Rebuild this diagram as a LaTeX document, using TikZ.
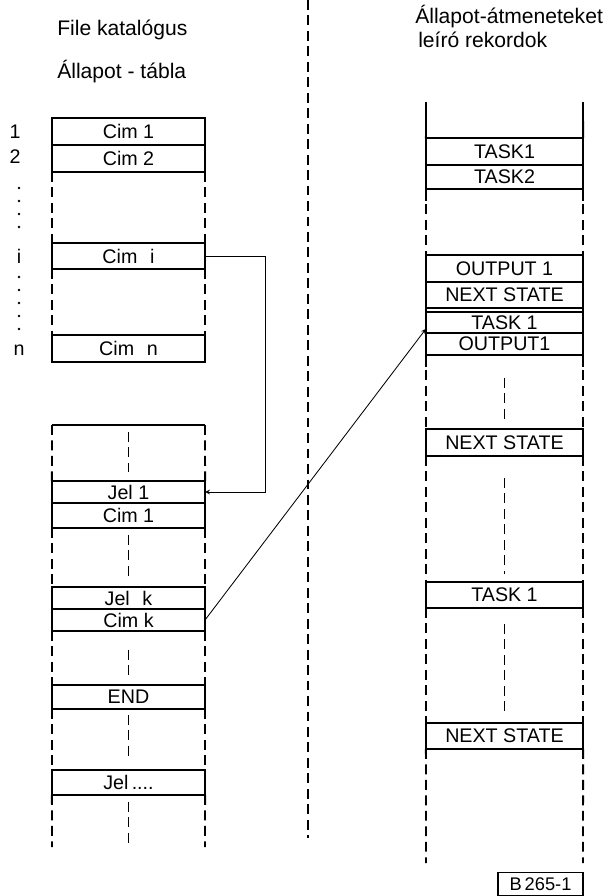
\documentclass[tikz,border=0pt]{standalone}
\usepackage{fontspec}
\setmainfont{Liberation Sans}
\usetikzlibrary{arrows,positioning,calc}

\begin{document}
\begin{tikzpicture}[
    x=0.025cm, y=-0.025cm,
    lbox/.style={rectangle, draw, line width=1.4pt, outer sep=0pt, minimum width=3.825cm, inner sep=0pt, font=\fontsize{14}{16}\selectfont},
    rbox/.style={lbox, minimum width=3.925cm},
    rail/.style={line width=1.4pt},
    railgap/.style={line width=1.4pt, dash pattern=on 7pt off 4pt},
    midline/.style={line width=0.9pt, dash pattern=on 7pt off 4pt},
    heading/.style={anchor=west, inner sep=0pt, font=\fontsize{15}{18}\selectfont},
    rownum/.style={inner sep=0pt, font=\fontsize{14}{16}\selectfont},
    link/.style={->, >=stealth, line width=0.6pt}
]
    \useasboundingbox (0,0) rectangle (610,896);

    % headings
    \node[heading] (head1) at (57,30) {File katalógus};
    \node[heading] (head2) at (57,72) {Állapot - tábla};
    \node[heading] (head3) at (415,17) {Állapot-átmeneteket};
    \node[heading] (head4) at (418,40) {leíró rekordok};

    % state table
    \node[lbox, minimum height=0.675cm] (cim1) at (128.5,131.5) {Cim 1};
    \node[lbox, minimum height=0.675cm, below=0pt of cim1] (cim2) {Cim 2};
    \node[lbox, minimum height=0.65cm] (cimi) at (128.5,256) {Cim\hspace{9pt}i};
    \node[lbox, minimum height=0.675cm] (cimn) at (128.5,348.5) {Cim\hspace{9pt}n};
    \draw[railgap] (cim2.south west) -- (cimi.north west) (cim2.south east) -- (cimi.north east);
    \draw[railgap] (cimi.south west) -- (cimn.north west) (cimi.south east) -- (cimn.north east);

    \node[rownum] (num1) at (15,132) {1};
    \node[rownum] (num2) at (15,157) {2};
    \node[rownum] (numi) at (19,256) {i};
    \node[rownum] (numn) at (19,350) {n};
    \foreach \y in {188,201,214,227,277,290,303,316,329}
        \fill (19,\y) circle (0.9pt);

    % file catalogue
    \coordinate (lnw) at (52,425);
    \coordinate (lne) at (205,425);
    \coordinate (lsw) at (52,847);
    \coordinate (lse) at (205,847);
    \node[lbox, minimum height=0.55cm] (jel1) at (128.5,492) {Jel 1};
    \node[lbox, minimum height=0.625cm, below=0pt of jel1] (cimA) {Cim 1};
    \node[lbox, minimum height=0.55cm] (jelk) at (128.5,598) {Jel\hspace{9pt}k};
    \node[lbox, minimum height=0.55cm, below=0pt of jelk] (cimk) {Cim k};
    \node[lbox, minimum height=0.6cm] (end) at (128.5,697) {END};
    \node[lbox, minimum height=0.625cm] (jeldots) at (128.5,782.5) {Jel\,....};
    \draw[rail] (lnw) -- (lne);
    \draw[railgap] (lnw) -- (jel1.north west) (lne) -- (jel1.north east);
    \foreach \a/\b in {cimA/jelk, cimk/end, end/jeldots}
        \draw[railgap] (\a.south west) -- (\b.north west) (\a.south east) -- (\b.north east);
    \draw[railgap] (jeldots.south west) -- (lsw) (jeldots.south east) -- (lse);
    \foreach \ya/\yb in {432/472, 535/580, 650/679, 715/760, 802/847}
        \draw[midline] (128.5,\ya) -- (128.5,\yb);

    % divider
    \draw[midline] (308,0) -- (308,838);

    % transition records
    \coordinate (rnw) at (426,102);
    \coordinate (rne) at (583,102);
    \coordinate (rsw) at (426,863);
    \coordinate (rse) at (583,863);
    \node[rbox, minimum height=0.675cm] (task1) at (504.5,151.5) {TASK1};
    \node[rbox, minimum height=0.6cm, below=0pt of task1] (task2) {TASK2};
    \node[rbox, minimum height=0.675cm] (out1) at (504.5,268.5) {OUTPUT 1};
    \node[rbox, minimum height=0.65cm, below=0pt of out1] (next1) {NEXT STATE};
    \node[rbox, minimum height=0.525cm, below=0.1cm of next1] (task1b) {TASK 1};
    \node[rbox, minimum height=0.55cm, below=0pt of task1b] (out1b) {OUTPUT1};
    \node[rbox, minimum height=0.675cm] (next2) at (504.5,442.5) {NEXT STATE};
    \node[rbox, minimum height=0.65cm] (task1c) at (504.5,595) {TASK 1};
    \node[rbox, minimum height=0.65cm] (next3) at (504.5,736) {NEXT STATE};
    \draw[rail] (rnw) -- (task1.north west) (rne) -- (task1.north east);
    \draw[rail] (next1.south west) -- (task1b.north west) (next1.south east) -- (task1b.north east);
    \foreach \a/\b in {task2/out1, out1b/next2, next2/task1c, task1c/next3}
        \draw[railgap] (\a.south west) -- (\b.north west) (\a.south east) -- (\b.north east);
    \foreach \n in {task2, out1b}
        \draw[rail] (\n.south west) -- ++(0,12) (\n.south east) -- ++(0,12);
    \draw[railgap] (next3.south west) -- (rsw) (next3.south east) -- (rse);
    \foreach \ya/\yb in {378/422, 478/574, 624/715}
        \draw[midline] (504.5,\ya) -- (504.5,\yb);

    % links
    \coordinate (bend) at (265,0);
    \draw[link] (cimi.east) -| (bend |- jel1.east) -- (jel1.east);
    \draw[link] (cimk.east) -- ([yshift=3pt]task1b.south west);

    \node[rectangle, draw, line width=1pt, minimum width=2.125cm, minimum height=0.575cm, inner sep=0pt, font=\fontsize{13}{15}\selectfont] (code) at (540.5,884) {B\,265-1};
\end{tikzpicture}
\end{document}
